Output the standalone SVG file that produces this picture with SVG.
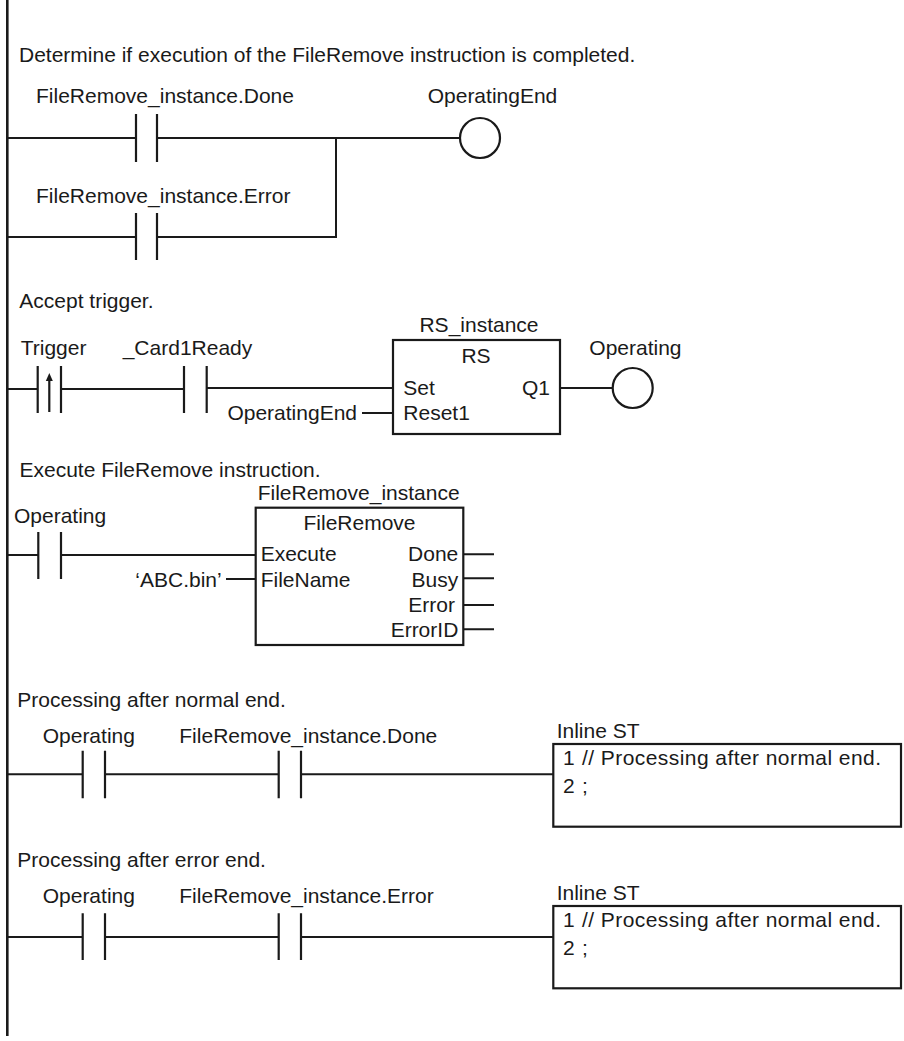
<svg xmlns="http://www.w3.org/2000/svg" width="904" height="1041" viewBox="0 0 904 1041">
<style>
text{font-family:"Liberation Sans",Arial,Helvetica,sans-serif;font-size:21px;fill:#1a1a1a}
.m{text-anchor:middle}
.e{text-anchor:end}
.w{stroke:#1a1a1a;stroke-width:2;fill:none}
.k{stroke:#1a1a1a;stroke-width:2.2;fill:none}
.b{stroke:#1a1a1a;stroke-width:2.2;fill:#fff}
</style>
<rect width="904" height="1041" fill="#fff"/>
<g id="rail"><line class="k" x1="7.3" y1="0" x2="7.3" y2="1036" style="stroke-width:2.6"/></g>

<g id="connectors">
<path class="w" d="M7 138H136M157 138H460M7 237H136M157 237H336V138"/>
<path class="w" d="M7 389H37.7M61 389H184M206.7 388H393M362 413H393M560 388H612.7"/>
<path class="w" d="M7 555H38.3M61 555H255.7M226 579H255.7M463.3 554.3H494M463.3 578.3H494M463.3 605H494M463.3 629.3H494"/>
<path class="w" d="M7 774.3H82.7M105 774.3H278.7M301 774.3H553.3"/>
<path class="w" d="M7 937H82.7M105 937H278.7M301 937H553.3"/>
</g>

<!-- Rung 1 -->
<g id="comment1"><text x="19" y="61.5">Determine if execution of the FileRemove instruction is completed.</text></g>
<g id="c_done1"><text x="36" y="102.7">FileRemove_instance.Done</text><path class="k" d="M136 114V162M157 114V162"/></g>
<g id="c_error1"><text x="36" y="203.3">FileRemove_instance.Error</text><path class="k" d="M136 213V260M157 213V260"/></g>
<g id="coil_opend"><text x="427.7" y="102.7">OperatingEnd</text><circle class="k" cx="480" cy="138" r="20"/></g>

<!-- Rung 2 -->
<g id="comment2"><text x="19.3" y="308.3">Accept trigger.</text></g>
<g id="c_trigger"><text x="20.7" y="355">Trigger</text><path class="k" d="M37.7 366V413M61 366V413M49.3 412V379"/><polygon points="49.3,373 45.8,381 52.8,381" fill="#1a1a1a"/></g>
<g id="c_card1ready"><text x="122.7" y="355">_Card1Ready</text><path class="k" d="M184 366V413M206.7 366V413"/></g>
<g id="rs_instance">
<text class="m" x="479" y="331.7">RS_instance</text>
<rect class="b" x="393" y="340" width="167" height="94"/>
<text class="m" x="476" y="363">RS</text>
<text x="403.3" y="395">Set</text>
<text class="e" x="550" y="395">Q1</text>
<text x="403.3" y="420">Reset1</text>
</g>
<g id="in_opend"><text class="e" x="357" y="420">OperatingEnd</text></g>
<g id="coil_operating"><text x="589.3" y="355">Operating</text><circle class="k" cx="632.7" cy="388" r="20"/></g>

<!-- Rung 3 -->
<g id="comment3"><text x="19.5" y="476.7">Execute FileRemove instruction.</text></g>
<g id="c_operating3"><text x="14" y="522.7">Operating</text><path class="k" d="M38.3 532V579M61 532V579"/></g>
<g id="fileremove_instance">
<text x="257.7" y="500">FileRemove_instance</text>
<rect class="b" x="255.7" y="507.7" width="207.6" height="137.3"/>
<text class="m" x="359.5" y="530">FileRemove</text>
<text x="260.7" y="561">Execute</text>
<text x="260.7" y="586.7">FileName</text>
<text class="e" x="458.3" y="561">Done</text>
<text class="e" x="458.3" y="586.7">Busy</text>
<text class="e" x="455" y="611.7">Error</text>
<text class="e" x="458.3" y="636.7">ErrorID</text>
</g>
<g id="in_filename"><text class="e" x="221.7" y="586.7">‘ABC.bin’</text></g>

<!-- Rung 4 -->
<g id="comment4"><text x="17.3" y="706.7">Processing after normal end.</text></g>
<g id="c_operating4"><text x="42.7" y="743.3">Operating</text><path class="k" d="M82.7 750.7V798.3M105 750.7V798.3"/></g>
<g id="c_done4"><text x="179.3" y="743.3">FileRemove_instance.Done</text><path class="k" d="M278.7 750.7V798.3M301 750.7V798.3"/></g>
<g id="inline_st1">
<text x="556.7" y="738">Inline ST</text>
<rect class="b" x="553.3" y="744" width="347.7" height="82.7"/>
<text x="563" y="765">1</text><text x="582" y="765" textLength="299" lengthAdjust="spacing">// Processing after normal end.</text>
<text x="563" y="793.3">2</text><text x="582" y="793.3">;</text>
</g>

<!-- Rung 5 -->
<g id="comment5"><text x="17.3" y="866.7">Processing after error end.</text></g>
<g id="c_operating5"><text x="42.7" y="903.3">Operating</text><path class="k" d="M82.7 913.3V960M105 913.3V960"/></g>
<g id="c_error5"><text x="179.3" y="903.3">FileRemove_instance.Error</text><path class="k" d="M278.7 913.3V960M301 913.3V960"/></g>
<g id="inline_st2">
<text x="556.7" y="900">Inline ST</text>
<rect class="b" x="553.3" y="906" width="347.7" height="82.3"/>
<text x="563" y="926.7">1</text><text x="582" y="926.7" textLength="299" lengthAdjust="spacing">// Processing after normal end.</text>
<text x="563" y="955">2</text><text x="582" y="955">;</text>
</g>
</svg>
